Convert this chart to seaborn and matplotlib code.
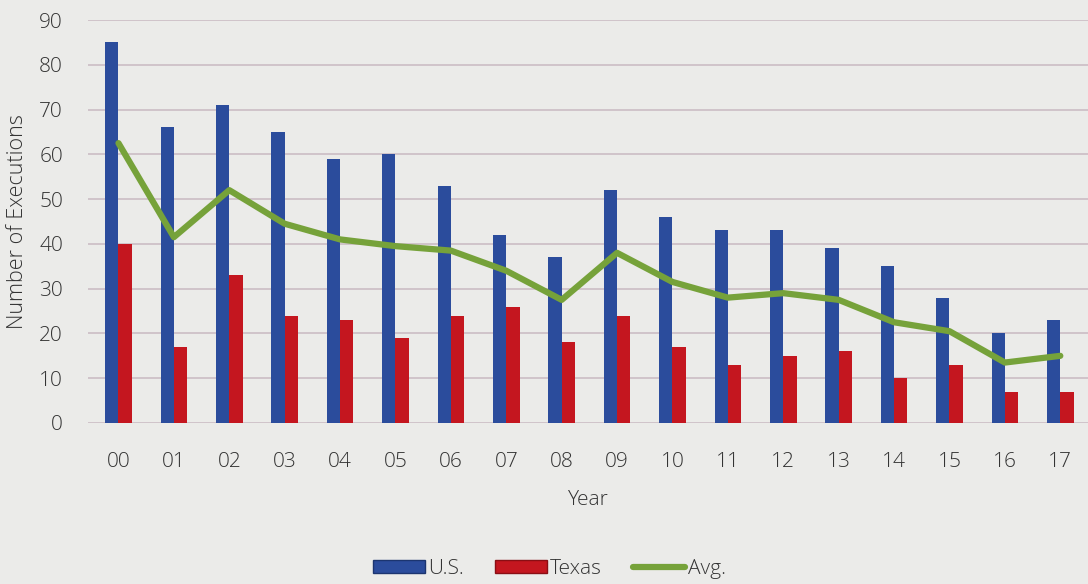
"""US vs Texas executions by year, with the average line."""

import matplotlib.pyplot as plt
import numpy as np
import pandas as pd
import seaborn as sns
from matplotlib.lines import Line2D
from matplotlib.patches import Patch

YEARS = ["00", "01", "02", "03", "04", "05", "06", "07", "08",
         "09", "10", "11", "12", "13", "14", "15", "16", "17"]
US = [85, 66, 71, 65, 59, 60, 53, 42, 37, 52, 46, 43, 43, 39, 35, 28, 20, 23]
TEXAS = [40, 17, 33, 24, 23, 19, 24, 26, 18, 24, 17, 13, 15, 16, 10, 13, 7, 7]
AVG = [62.5, 41.5, 52, 44.5, 41, 39.5, 38.5, 34, 27.5, 38, 31.5, 28, 29,
       27.5, 22.5, 20.5, 13.5, 15]

BLUE = "#2b4c9c"
RED = "#c4161f"
GREEN = "#76a23a"
BG = "#ebebe9"
GRID = "#c9b9c1"
TEXT = "#333333"

sns.set_theme(style="white")
plt.rcParams["font.family"] = ["Open Sans", "DejaVu Sans"]
plt.rcParams["font.weight"] = "light"
plt.rcParams["axes.labelweight"] = "light"

bars = pd.DataFrame({
    "year": YEARS * 2,
    "value": US + TEXAS,
    "series": ["U.S."] * len(YEARS) + ["Texas"] * len(YEARS),
})
avg = pd.DataFrame({"year": YEARS, "value": AVG})

fig = plt.figure(figsize=(10.88, 5.84), dpi=100, facecolor=BG)
ax = fig.add_axes([88 / 1088, 1 - 423 / 584, 1 - 88 / 1088, (423 - 20) / 584])
ax.set_facecolor(BG)

sns.barplot(
    data=bars, x="year", y="value", hue="series", order=YEARS,
    palette={"U.S.": BLUE, "Texas": RED}, width=0.48, gap=0,
    edgecolor="none", saturation=1, legend=False, ax=ax,
)
sns.pointplot(
    data=avg, x="year", y="value", order=YEARS, color=GREEN,
    markers="", linewidth=4.5, ax=ax,
)

ax.set_ylim(0, 90)
ax.set_xlim(-0.55, 17.5)
ax.set_yticks(range(0, 91, 10))
ax.grid(axis="y", color=GRID, linewidth=1.1)
ax.set_axisbelow(True)
for side in ax.spines.values():
    side.set_visible(False)
ax.tick_params(axis="both", length=0, labelsize=15, colors=TEXT)
ax.tick_params(axis="y", pad=18)
ax.tick_params(axis="x", pad=21)
ax.set_xlabel("Year", fontsize=15, color=TEXT, labelpad=13, fontweight="light")
ax.set_ylabel("Number of Executions", fontsize=15.5, color=TEXT,
              fontweight="light")
ax.yaxis.set_label_coords(-0.060, 0.5)

handles = [
    Patch(facecolor=BLUE, edgecolor="#1c3570"),
    Patch(facecolor=RED, edgecolor="#8a0e14"),
    Line2D([0], [0], color=GREEN, linewidth=4.5),
]
fig.legend(
    handles, ["U.S.", "Texas", "Avg."], loc="center", ncol=3,
    bbox_to_anchor=(0.505, 0.026), frameon=False, fontsize=15,
    handlelength=2.5, handleheight=0.6, handletextpad=0.15, columnspacing=1.5,
    labelcolor=TEXT,
)

fig.savefig("out.png", dpi=100, facecolor=BG)
